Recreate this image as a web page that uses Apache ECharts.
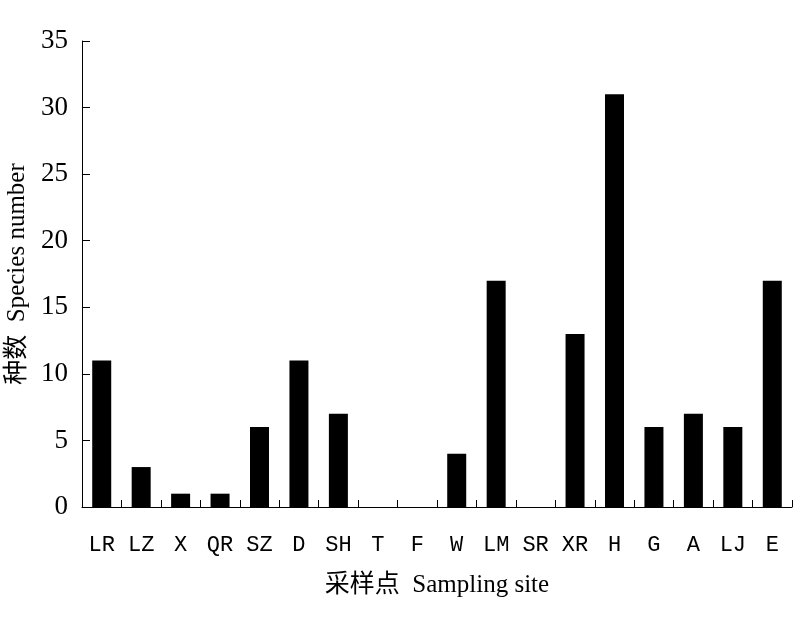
<!DOCTYPE html>
<html><head><meta charset="utf-8">
<script src="https://cdn.jsdelivr.net/npm/echarts@6/dist/echarts.min.js"></script>
<style>html,body{margin:0;padding:0;background:#fff}#c{width:800px;height:638px}</style>
</head><body><div id="c"></div>
<script>
const categories = ['LR','LZ','X','QR','SZ','D','SH','T','F','W','LM','SR','XR','H','G','A','LJ','E'];
const speciesNumber = [11,3,1,1,6,11,7,0,0,4,17,0,13,31,6,7,6,17];
const yTicks = {min:0, max:35, interval:5};
const chart = echarts.init(document.getElementById('c'));
chart.setOption({
  animation:false,
  backgroundColor:'#fff',
  grid:{left:82, right:8, top:41, bottom:131, containLabel:false, outerBoundsMode:'none'},
  xAxis:{
    type:'category', data:categories,
    name:'采样点  Sampling site', nameLocation:'middle', nameGap:66,
    nameTextStyle:{fontFamily:'Liberation Serif, Noto Sans CJK SC', fontSize:25, color:'#000'},
    axisLine:{lineStyle:{color:'#000', width:1}},
    axisTick:{show:true, inside:true, length:7, lineStyle:{color:'#000', width:1}},
    axisLabel:{fontFamily:'Liberation Mono', fontSize:22, color:'#000', margin:27},
    splitLine:{show:false}
  },
  yAxis:{
    type:'value', min:yTicks.min, max:yTicks.max, interval:yTicks.interval,
    name:'种数  Species number', nameLocation:'middle', nameGap:47,
    nameTextStyle:{fontFamily:'Liberation Serif, Noto Sans CJK SC', fontSize:25, color:'#000'},
    axisLine:{show:true, lineStyle:{color:'#000', width:1}},
    axisTick:{show:true, inside:true, length:8, lineStyle:{color:'#000'}},
    axisLabel:{fontFamily:'Liberation Serif', fontSize:27, color:'#000', margin:14},
    splitLine:{show:false}
  },
  series:[{
    type:'bar', data:speciesNumber, barWidth:19,
    itemStyle:{color:'#000'}
  }]
});
</script></body></html>
